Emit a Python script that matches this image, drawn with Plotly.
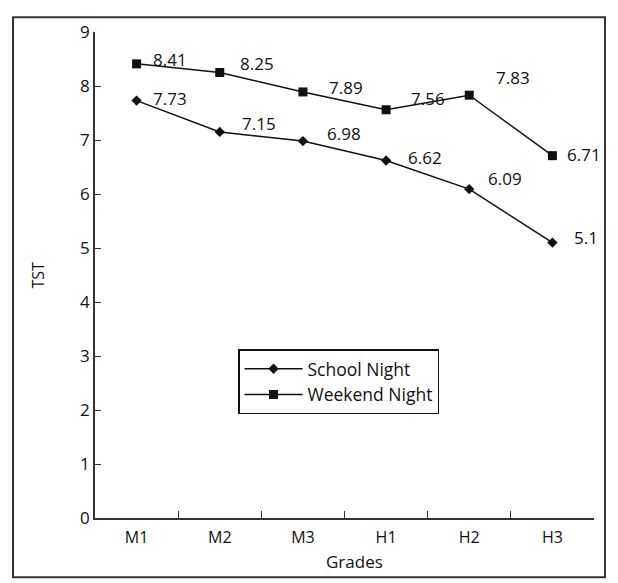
import plotly.graph_objects as go

grades = ["M1", "M2", "M3", "H1", "H2", "H3"]
school_night = [7.73, 7.15, 6.98, 6.62, 6.09, 5.1]
weekend_night = [8.41, 8.25, 7.89, 7.56, 7.83, 6.71]
y_ticks = [0, 1, 2, 3, 4, 5, 6, 7, 8, 9]

# label offsets in pixels (style, not data)
school_off = [(14, 2), (20, 8), (22, 8), (20, 3), (17, 11), (20, 5)]
weekend_off = [(14, 4), (18, 9), (24, 4), (23, 11), (25, 18), (13, 1)]

FONT = "Open Sans"
INK = "#111111"

fig = go.Figure()
fig.add_trace(go.Scatter(
    x=grades, y=school_night, mode="lines+markers", name="School Night",
    line=dict(color=INK, width=1.5),
    marker=dict(symbol="diamond", size=8, color=INK),
))
fig.add_trace(go.Scatter(
    x=grades, y=weekend_night, mode="lines+markers", name="Weekend Night",
    line=dict(color=INK, width=1.5),
    marker=dict(symbol="square", size=9, color=INK),
))

for vals, offs in ((school_night, school_off), (weekend_night, weekend_off)):
    for g, v, (dx, dy) in zip(grades, vals, offs):
        fig.add_annotation(
            x=g, y=v, text=f"{v:g}", showarrow=False,
            xanchor="left", yanchor="middle", xshift=dx, yshift=dy,
            font=dict(family=FONT, size=17, color=INK),
        )

fig.add_annotation(
    xref="paper", yref="paper", x=0.521, y=-0.089, text="Grades",
    showarrow=False, xanchor="center", yanchor="middle",
    font=dict(family=FONT, size=17, color=INK),
)
fig.add_annotation(
    xref="paper", yref="paper", x=-0.115, y=0.5, text="TST", textangle=-90,
    showarrow=False, xanchor="center", yanchor="middle",
    font=dict(family=FONT, size=16, color=INK),
)

# outer frame
fig.add_shape(type="rect", xref="paper", yref="paper",
              x0=-0.1643, x1=1.022, y0=-0.1217, y1=1.0304,
              line=dict(color="#333333", width=2))

fig.update_layout(
    width=610, height=575,
    margin=dict(l=87, r=24, t=17, b=65),
    paper_bgcolor="white", plot_bgcolor="white",
    font=dict(family=FONT, color=INK),
    showlegend=True,
    legend=dict(
        x=0.2866, y=0.347, xanchor="left", yanchor="top",
        bordercolor=INK, borderwidth=1.5, bgcolor="white",
        font=dict(family=FONT, size=17.5, color=INK),
        itemwidth=58, tracegroupgap=0,
    ),
    xaxis=dict(
        type="category", categoryorder="array", categoryarray=grades,
        range=[-0.5, 5.5], showline=True, linecolor="#333333", linewidth=1.5,
        ticks="inside", tickson="boundaries", ticklen=7, tickcolor="#333333",
        tickwidth=1.3, showgrid=False, zeroline=False, ticklabelstandoff=4,
        tickfont=dict(family=FONT, size=16, color=INK),
    ),
    yaxis=dict(
        range=[0, 9], tickvals=y_ticks, showline=True, linecolor="#333333",
        linewidth=1.5, ticks="inside", ticklen=6, tickcolor="#333333",
        tickwidth=1.3, showgrid=False, zeroline=False,
        tickfont=dict(family=FONT, size=17, color=INK),
    ),
)

fig.write_html("out.html")
